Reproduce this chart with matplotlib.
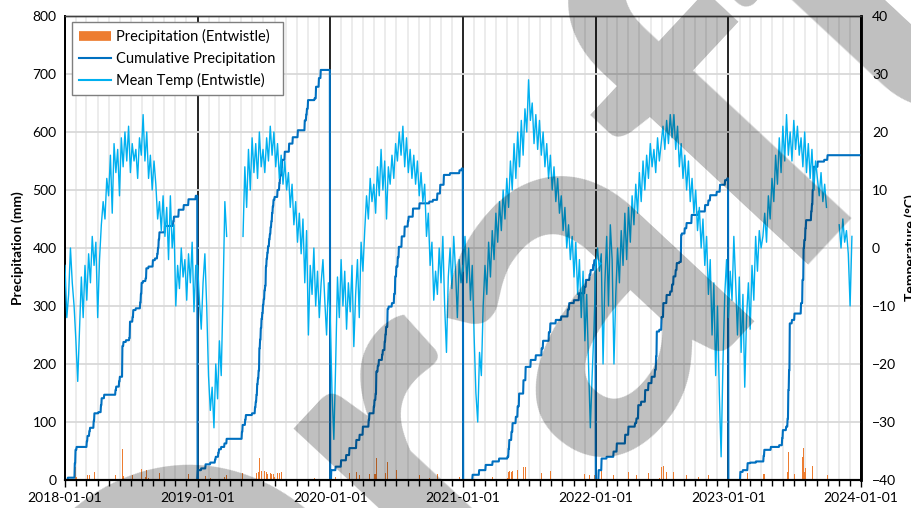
import numpy as np
import matplotlib
matplotlib.use("Agg")
import matplotlib.pyplot as plt
import matplotlib.dates as mdates
from matplotlib.lines import Line2D

nan = np.nan
plt.rcParams['font.family'] = ['Lato', 'DejaVu Sans']

years = [2018, 2019, 2020, 2021, 2022, 2023]

# Daily precipitation events: (day index within year, mm)
precip_2018 = [(8, 4), (27, 25), (29, 23), (32, 5), (60, 10), (62, 9), (67, 8), (69, 6),
               (79, 12), (81, 13), (92, 2), (99, 12), (101, 12), (108, 6), (139, 8), (141, 6),
               (149, 9), (151, 8), (158, 53), (161, 7), (168, 3), (177, 4), (179, 28),
               (186, 8), (188, 12), (195, 3), (207, 10), (209, 15), (211, 19), (215, 3),
               (222, 5), (224, 17), (230, 3), (242, 11), (248, 3), (254, 8), (256, 10),
               (258, 15), (260, 12), (275, 11), (298, 8), (300, 8), (313, 12), (327, 8),
               (340, 10), (360, 6)]
precip_2019 = [(1, 17), (10, 3), (22, 7), (35, 3), (48, 5), (50, 5), (57, 7), (59, 6),
               (65, 4), (74, 6), (80, 8), (122, 12), (124, 12), (131, 9), (133, 8), (150, 3),
               (158, 10), (160, 10), (162, 12), (164, 18), (166, 10), (168, 14), (170, 38),
               (172, 15), (174, 20), (176, 16), (178, 10), (180, 14), (182, 10), (184, 15),
               (186, 8), (188, 33), (190, 14), (192, 10), (194, 11), (197, 12), (199, 9),
               (201, 12), (203, 10), (205, 14), (207, 12), (209, 11), (212, 5), (220, 12),
               (225, 12), (227, 13), (231, 14), (233, 13), (240, 14), (252, 14), (262, 11),
               (276, 12), (295, 17), (299, 10), (301, 10), (304, 15), (322, 3), (326, 20),
               (334, 15), (339, 14)]
precip_2020 = [(3, 17), (15, 6), (30, 11), (44, 9), (53, 12), (72, 14), (81, 9), (90, 14),
               (106, 12), (108, 11), (120, 12), (122, 11), (125, 11), (127, 38), (131, 10),
               (134, 10), (143, 9), (145, 8), (150, 15), (152, 12), (154, 13), (158, 31),
               (161, 4), (170, 6), (176, 16), (179, 30), (182, 17), (186, 16), (189, 18),
               (197, 18), (205, 17), (214, 9), (216, 8), (228, 14), (246, 9), (273, 3),
               (283, 3), (295, 11), (303, 15), (313, 17), (330, 3), (356, 5), (362, 3)]
precip_2021 = [(26, 9), (44, 8), (62, 9), (81, 6), (99, 5), (122, 3), (125, 14), (127, 15),
               (133, 14), (136, 15), (145, 11), (150, 18), (154, 22), (166, 23), (172, 23),
               (186, 12), (200, 8), (216, 12), (220, 13), (236, 15), (240, 15), (255, 6),
               (270, 6), (288, 12), (292, 11), (305, 5), (319, 12), (334, 11), (338, 12),
               (348, 9), (351, 8), (358, 9), (361, 8)]
precip_2022 = [(8, 17), (16, 20), (30, 3), (49, 9), (58, 14), (81, 15), (90, 14), (108, 6),
               (112, 8), (117, 23), (125, 6), (136, 20), (145, 12), (154, 11), (163, 12),
               (166, 23), (168, 43), (175, 3), (181, 22), (186, 24), (195, 14), (205, 6),
               (210, 12), (214, 14), (220, 11), (223, 12), (230, 2), (235, 46), (237, 3),
               (245, 9), (250, 9), (264, 14), (283, 6), (301, 11), (310, 8), (315, 9),
               (333, 6), (342, 12), (356, 8), (362, 3)]
precip_2023 = [(33, 14), (40, 3), (53, 12), (60, 1), (76, 2), (97, 10), (99, 10), (117, 5),
               (140, 3), (148, 12), (150, 14), (159, 6), (163, 14), (165, 49), (167, 34),
               (169, 81), (175, 6), (182, 11), (200, 18), (204, 40), (207, 55), (209, 14),
               (212, 20), (214, 14), (228, 15), (230, 12), (232, 25), (235, 40), (246, 9),
               (264, 3), (273, 8)]

# Mean temperature (deg C), one reading every 5 days from 1 January
temp_step_days = 5
temp_2018 = [-3, -12, -8, 0, -6, -10, -16, -23, -14, -5, -12, -3, -9, -1, -6, 2, -3, 1, -12, -2,
             4, 8, 5, 12, 9, 16, 6, 18, 13, 17, 9, 19, 14, 20, 15, 21, 13, 18, 15, 17,
             12, 19, 16, 23, 15, 20, 12, 16, 10, 15, 11, 5, 8, 3, 9, 2, 7, -2, 9, 0,
             4, -10, -3, -7, 0, -5, -2, -9, -1, -6, 1, -11, -3]
temp_2019 = [-3, -9, -14, -6, -1, -10, -22, -28, -24, -31, -20, -26, -16, -22, -8, 8, 2, nan, nan, nan,
             nan, nan, nan, nan, nan, 2, 14, 7, 17, 10, 19, 13, 18, 12, 20, 14, 17, 13, 19, 15,
             21, 16, 20, 14, 18, 12, 16, 11, 15, 10, 13, 7, 11, 4, 8, 1, 6, -1, 5, -6,
             3, -15, -3, -8, 0, -10, -4, -12, -6, -2, -9, -15, -6]
temp_2020 = [-12, -25, -33, -20, -5, -12, -2, -10, -4, -14, -6, -11, -3, -17, -8, -2, -12, 1, -4, 3,
             9, 5, 12, 8, 11, 6, 14, 9, 17, 10, 15, 5, 14, 11, 16, 12, 18, 15, 20, 16,
             21, 14, 19, 13, 17, 12, 16, 11, 15, 9, 13, 8, 11, 2, 6, -3, 1, -9, -4, -8,
             0, -6, 2, -10, -18, -5, 0, -7, 2, -4, -12, -2, -6, -3]
temp_2021 = [-4, 2, -6, 0, -9, -3, -15, -25, -30, -18, -22, -10, -3, -8, 1, -5, 3, -2, 6, 1,
             8, 3, 10, 5, 12, 7, 15, 10, 18, 12, 20, 14, 22, 16, 24, 20, 29, 22, 25, 18,
             23, 17, 22, 16, 20, 14, 18, 12, 16, 10, 14, 8, 12, 6, 9, 3, 7, 0, 4, -2,
             2, -5, 1, -8, -2, -12, -4, -16, -8, -20, -31, -22, -14]
temp_2022 = [-3, 0, -4, -1, -20, -6, 2, -10, 4, -2, -20, -8, 0, -6, 3, -3, 6, -2, 7, 1,
             9, 4, 11, 6, 13, 8, 15, 10, 16, 12, 18, 14, 17, 13, 19, 15, 18, 21, 17, 22,
             18, 23, 19, 23, 17, 21, 14, 18, 12, 16, 10, 15, 8, 12, 6, 10, 3, 7, 0, 5,
             -3, 2, -8, -2, -15, -6, -22, -10, -25, -36, -20, -8, -2]
temp_2023 = [-12, -4, -9, 2, -6, -15, -5, -18, -8, -24, -12, -6, -14, -3, -9, 2, -4, 3, 0, 2,
             6, 1, 9, 5, 12, 8, 16, 11, 19, 13, 21, 15, 23, 16, 20, 15, 22, 17, 21, 16,
             19, 14, 20, 13, 18, 12, 17, 10, 15, 12, 9, 13, 8, 11, 7, nan, nan, nan, nan, nan,
             nan, 4, 0, 5, 1, 3, -1, -10, 2, nan, nan, nan, nan]

precip_events = dict(zip(years, [precip_2018, precip_2019, precip_2020,
                                 precip_2021, precip_2022, precip_2023]))
temps = dict(zip(years, [temp_2018, temp_2019, temp_2020, temp_2021, temp_2022, temp_2023]))

day_list, precip_list, cum_list, tdate_list, tval_list = [], [], [], [], []
for y in years:
    start = np.datetime64(f"{y}-01-01")
    n = int((np.datetime64(f"{y + 1}-01-01") - start) / np.timedelta64(1, 'D'))
    daily = np.zeros(n)
    for d, mm in precip_events[y]:
        daily[d] += mm
    day_list.append(start + np.arange(n))
    precip_list.append(daily)
    cum_list.append(np.cumsum(daily))
    tv = np.array(temps[y], dtype=float)
    tdate_list.append(start + np.arange(len(tv)) * temp_step_days)
    tval_list.append(tv)

days = np.concatenate(day_list)
precip = np.concatenate(precip_list)
cumul = np.concatenate(cum_list)
tdates = np.concatenate(tdate_list)
tvals = np.concatenate(tval_list)

fig = plt.figure(figsize=(9.12, 5.08), dpi=100)
ax = fig.add_axes([65 / 912, 1 - 480 / 508, 796 / 912, 464 / 508])
ax2 = ax.twinx()

ax.set_axisbelow(True)
ax.xaxis.set_major_locator(mdates.YearLocator())
ax.xaxis.set_minor_locator(mdates.MonthLocator())
ax.xaxis.set_major_formatter(mdates.DateFormatter('%Y-%m-%d'))
ax.grid(axis='y', color='#d9d9d9', lw=1.3)
ax.grid(axis='x', which='minor', color='#ebebeb', lw=1.3)
ax.grid(axis='x', which='major', color='black', lw=1.2)

mask = precip > 0
ax.bar(days[mask], precip[mask], width=1.0, color='#ED7D31', linewidth=0, zorder=2)
ax.plot(days, cumul, color='#0070C0', lw=1.5, zorder=3)
ax2.plot(tdates, tvals, color='#00B0F0', lw=1.0, zorder=3)

ax.set_xlim(np.datetime64('2018-01-01'), np.datetime64('2024-01-01'))
ax.set_ylim(0, 800)
ax.set_yticks(np.arange(0, 801, 100))
ax2.set_ylim(-40, 40)
ax2.set_yticks(np.arange(-40, 41, 10))

ax.tick_params(axis='y', length=0, labelsize=10, pad=6)
ax2.tick_params(axis='y', length=0, labelsize=10, pad=8)
ax.tick_params(axis='x', which='major', length=5, width=1, labelsize=10, pad=4)
ax.tick_params(axis='x', which='minor', length=4, width=1)

for a in (ax, ax2):
    for s in a.spines.values():
        s.set_color('black')
    a.spines['left'].set_linewidth(1.3)
    a.spines['bottom'].set_linewidth(1.5)
    a.spines['right'].set_linewidth(1.8)
    a.spines['top'].set_linewidth(1.0)
    a.spines['top'].set_color('#404040')

ax.set_ylabel('Precipitation (mm)', fontweight='bold', fontsize=10)
ax.yaxis.set_label_coords(-0.052, 0.5)
ax2.set_ylabel('Temperature (°C)', fontweight='bold', fontsize=10)
ax2.yaxis.set_label_coords(1.054, 0.5)

handles = [Line2D([], [], color='#ED7D31', lw=7, solid_capstyle='butt'),
           Line2D([], [], color='#0070C0', lw=1.5),
           Line2D([], [], color='#00B0F0', lw=1.5)]
labels = ['Precipitation (Entwistle)', 'Cumulative Precipitation', 'Mean Temp (Entwistle)']
leg = ax2.legend(handles, labels, loc='upper left', bbox_to_anchor=(0.0088, 0.987),
                 borderaxespad=0, fancybox=False, framealpha=1, edgecolor='#7f7f7f',
                 fontsize=10.5, handlelength=2.2, handletextpad=0.35, labelspacing=0.5,
                 borderpad=0.5)
leg.get_frame().set_linewidth(1.0)

fig.text(494 / 912, 1 - 340 / 508, 'Draft', fontsize=370, fontweight='bold',
         rotation=47, ha='center', va='center', color='black', alpha=0.25,
         rotation_mode='anchor', zorder=10)

fig.savefig('out.png', dpi=100)
